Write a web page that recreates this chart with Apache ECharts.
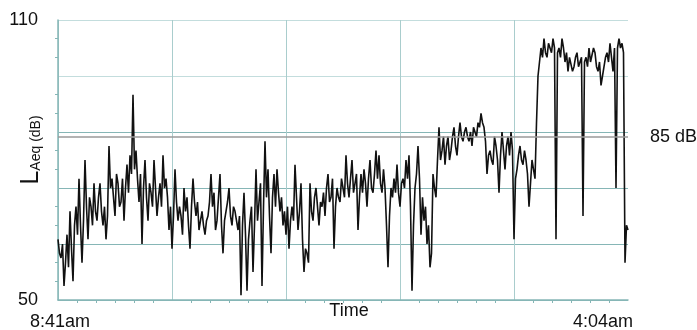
<!DOCTYPE html>
<html>
<head>
<meta charset="utf-8">
<script src="https://cdn.jsdelivr.net/npm/echarts@6/dist/echarts.min.js"></script>
<style>
  html, body { margin: 0; padding: 0; background: #fff; }
  #chart { width: 697px; height: 330px; }
</style>
</head>
<body>
<div id="chart"></div>
<script>
// sound level readings, LAeq in dB, evenly spaced from 8:41am to 4:04am
const levels = [
  63, 60, 59, 62, 53, 58, 64, 57, 69, 61, 54, 66, 70, 64, 76, 66, 58, 67, 80, 70,
  63, 72, 70, 66, 75, 69, 67, 72, 75, 69, 66, 70, 63, 68, 83, 74, 76, 72, 68, 77,
  75, 70, 71, 76, 67, 74, 79, 73, 81, 77, 94, 78, 82, 76, 71, 77, 62, 74, 80, 72,
  67, 75, 73, 70, 80, 74, 68, 72, 75, 70, 81, 74, 76, 72, 65, 70, 61, 68, 78, 71,
  67, 70, 68, 64, 74, 69, 72, 66, 61, 70, 76, 71, 68, 71, 65, 67, 69, 66, 64, 67,
  68, 71, 77, 70, 73, 65, 67, 72, 77, 66, 60, 67, 69, 71, 74, 68, 66, 70, 69, 67,
  65, 68, 51, 66, 73, 64, 52, 63, 67, 70, 56, 66, 78, 67, 71, 75, 53, 70, 84, 72,
  78, 68, 60, 72, 77, 70, 78, 73, 69, 72, 66, 69, 64, 70, 61, 67, 70, 67, 79, 72,
  65, 69, 75, 63, 56, 61, 60, 58, 75, 69, 67, 72, 74, 70, 66, 71, 70, 73, 68, 74,
  77, 71, 72, 76, 61, 70, 74, 72, 71, 76, 74, 72, 81, 75, 72, 76, 80, 73, 75, 77,
  65, 72, 77, 73, 78, 75, 70, 76, 80, 74, 73, 77, 82, 76, 81, 75, 73, 78, 74, 66,
  57, 68, 74, 72, 76, 73, 79, 73, 70, 75, 76, 74, 80, 76, 81, 70, 52, 66, 74, 77,
  83, 76, 64, 72, 67, 70, 62, 66, 57, 60, 77, 74, 72, 80, 87, 80, 82, 85, 79, 83,
  85, 80, 82, 85, 87, 83, 81, 85, 88, 85, 84, 86, 87, 85, 84, 86, 83, 87, 86, 85,
  88, 87, 90, 88, 87, 84, 77, 81, 82, 80, 79, 85, 83, 80, 73, 81, 86, 82, 78, 83,
  85, 81, 86, 82, 63, 76, 78, 81, 83, 80, 79, 82, 80, 77, 70, 75, 80, 78, 76, 88,
  98, 101, 104, 102, 106, 103, 102, 105, 104, 103, 106, 104, 63, 103, 104, 102, 106, 104, 101, 103,
  99, 102, 102, 99, 100, 102, 103, 100, 101, 102, 68, 101, 102, 100, 104, 101, 101, 104, 103, 100,
  99, 101, 96, 98, 100, 102, 103, 101, 105, 102, 99, 104, 74, 104, 106, 104, 105, 103, 58, 66,
  65
];
const startLabel = '8:41am';
const endLabel = '4:04am';
const limitLevel = 85;
const yRange = [50, 110];

const teal = '#86b6b6';
const font = 'Liberation Sans, Arial, sans-serif';
const lastIndex = levels.length - 1;

const chart = echarts.init(document.getElementById('chart'), null, { renderer: 'canvas' });

const option = {
  animation: false,
  grid: { left: 58, right: 69, top: 20, bottom: 30, outerBoundsMode: 'none', containLabel: false },
  textStyle: { fontFamily: font },
  xAxis: {
    type: 'value',
    min: 0,
    max: lastIndex,
    interval: lastIndex / 5,
    name: 'Time',
    nameLocation: 'middle',
    nameGap: 2,
    nameMoveOverlap: false,
    nameTextStyle: { fontSize: 18, color: '#111', verticalAlign: 'top', padding: [0, 0, 0, 12] },
    axisLine: { lineStyle: { color: teal, width: 1.5 } },
    axisTick: { show: false },
    minorTick: { show: true, splitNumber: 6, length: 3, lineStyle: { color: teal } },
    splitLine: { showMaxLine: false, lineStyle: { color: '#a9cdcd', width: 1 } },
    axisLabel: {
      margin: 13,
      fontSize: 18,
      color: '#111',
      formatter: (v) => {
        if (v === 0) return '{l|' + startLabel + '}';
        if (v === lastIndex) return '{r|' + endLabel + '}';
        return '';
      },
      rich: {
        l: { fontSize: 18, color: '#111', padding: [0, 0, 0, 4] },
        r: { fontSize: 18, color: '#111', padding: [0, 50, 0, 0] }
      }
    }
  },
  yAxis: [
    {
      type: 'value',
      min: yRange[0],
      max: yRange[1],
      interval: 10,
      axisLine: { show: true, lineStyle: { color: teal, width: 1.5 } },
      axisTick: { show: false },
      splitLine: { show: false },
      axisLabel: {
        margin: 20,
        fontSize: 18,
        color: '#111',
        formatter: (v) => (v === yRange[0] || v === yRange[1]) ? String(v) : ''
      }
    },
    {
      // only used for the 12 dB grid and small ticks
      type: 'value',
      position: 'left',
      min: 0,
      max: 60,
      interval: 12,
      axisLine: { show: false },
      axisLabel: { show: false },
      axisTick: { show: false },
      minorTick: { show: true, splitNumber: 3, length: 3, lineStyle: { color: teal } },
      splitLine: {
        lineStyle: {
          color: [teal, teal, teal, teal, '#c3dddd', '#c3dddd'],
          width: 1
        }
      }
    }
  ],
  series: [{
    type: 'line',
    yAxisIndex: 0,
    data: levels.map((v, i) => [i, v]),
    showSymbol: false,
    silent: true,
    lineStyle: { color: '#111', width: 1.6 },
    markLine: {
      symbol: 'none',
      silent: true,
      lineStyle: { color: '#9a9a9a', width: 1.5, type: 'solid' },
      label: {
        position: 'end',
        distance: 22,
        formatter: limitLevel + ' dB',
        fontSize: 18,
        color: '#111'
      },
      data: [{ yAxis: limitLevel }]
    }
  }],
  graphic: [{
    type: 'text',
    x: 31,
    y: 150,
    rotation: Math.PI / 2,
    style: {
      text: '{big|L}{small|Aeq (dB)}',
      align: 'center',
      verticalAlign: 'middle',
      rich: {
        big: { fontSize: 25, fontFamily: font, fill: '#111', verticalAlign: 'bottom' },
        small: { fontSize: 14, fontFamily: font, fill: '#111', verticalAlign: 'bottom' }
      }
    }
  }]
};

chart.setOption(option);
</script>
</body>
</html>
